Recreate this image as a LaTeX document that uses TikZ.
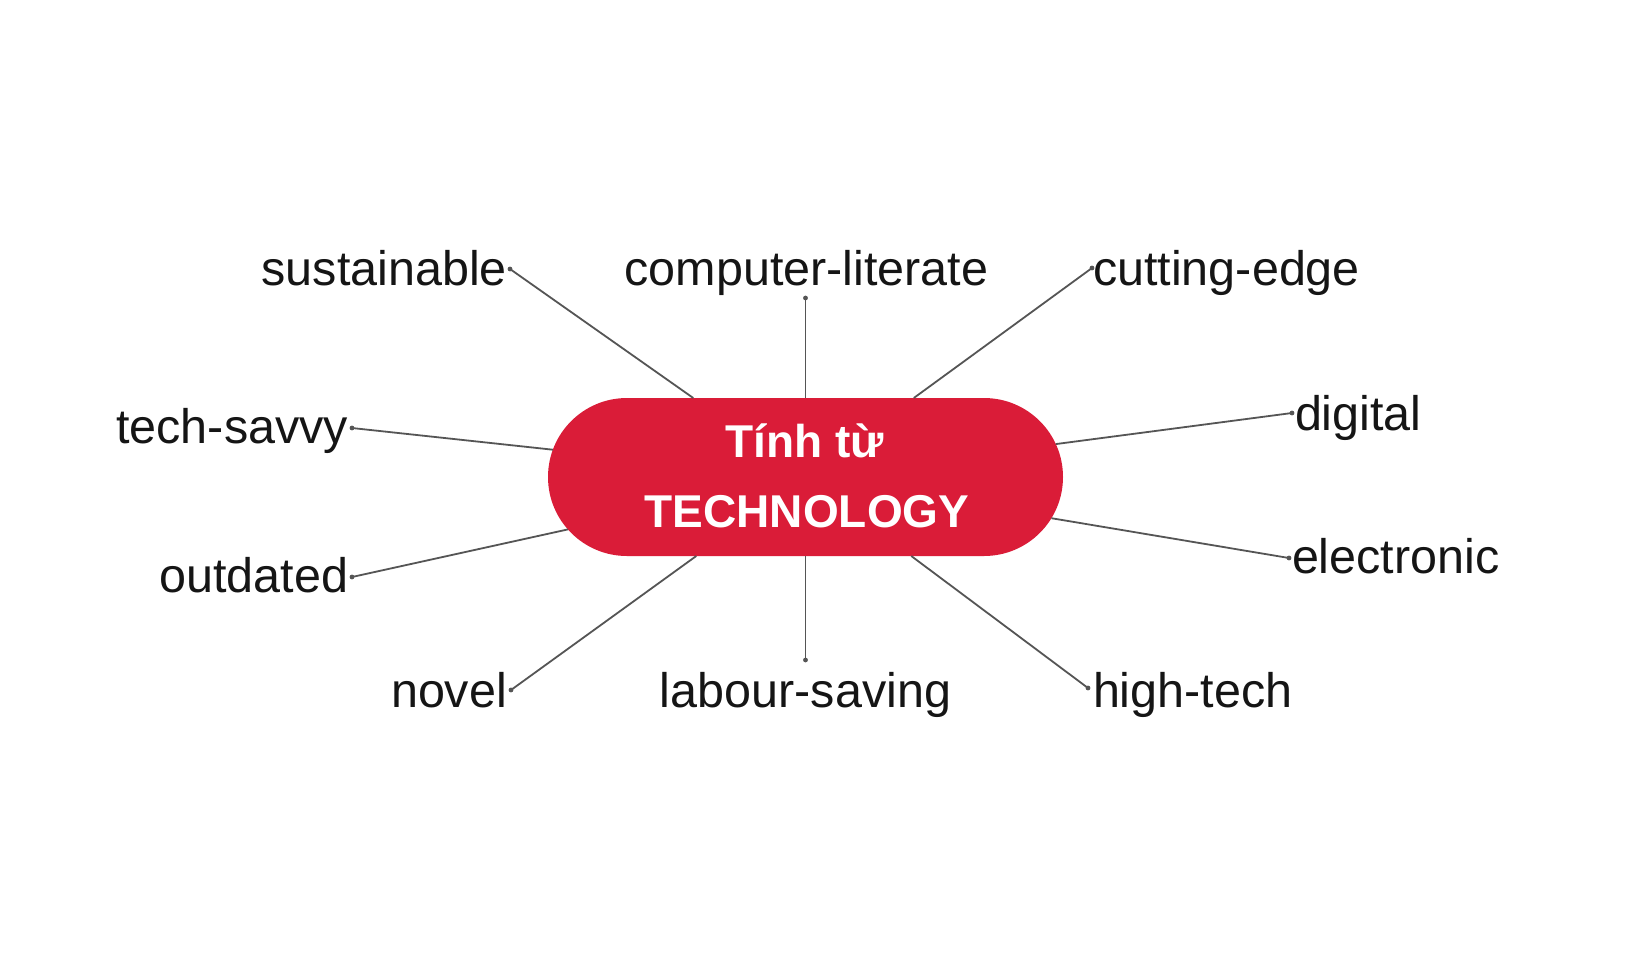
\documentclass[tikz,border=0pt]{standalone}
\usepackage{fontspec}
\setmainfont{Liberation Sans}
\usetikzlibrary{shapes.misc}
\definecolor{hubred}{HTML}{DA1C38}
\definecolor{linegray}{HTML}{555555}
\definecolor{txt}{HTML}{151515}
\begin{document}
\begin{tikzpicture}[x=1pt,y={(0pt,-1pt)},
  lbl/.style={inner sep=0pt,outer sep=0pt,text=txt,font=\fontsize{48.5}{58}\selectfont},
  hubtxt/.style={inner sep=0pt,outer sep=0pt,text=white,font=\bfseries\fontsize{46}{55}\selectfont},
  conn/.style={draw=linegray,line width=1.8pt},
  enddot/.style={fill=linegray,draw=none}]
\useasboundingbox (0,0) rectangle (1626,954);
\fill[white] (0,0) rectangle (1626,954);
% central box
\node[rounded rectangle,fill=hubred,draw=none,minimum width=515pt,minimum height=158pt,inner sep=0pt,outer sep=0pt] (hub) at (805.5,477) {};
\node[hubtxt,anchor=base] (hubA) at (805,457) {Tính từ};
\node[hubtxt,anchor=base] (hubB) at (807,527) {TECHNOLOGY};
% labels
\node[lbl,anchor=base east] (sus) at (507,285) {sustainable};
\node[lbl,anchor=base] (com) at (806.5,285) {computer-literate};
\node[lbl,anchor=base west] (cut) at (1093,285) {cutting-edge};
\node[lbl,anchor=base east] (tec) at (348,443) {tech-savvy};
\node[lbl,anchor=base west] (dig) at (1295,430) {digital};
\node[lbl,anchor=base east] (out) at (348,592) {outdated};
\node[lbl,anchor=base west] (ele) at (1292,573) {electronic};
\node[lbl,anchor=base east] (nov) at (507,707) {novel};
\node[lbl,anchor=base] (lab) at (805.5,707) {labour-saving};
\node[lbl,anchor=base west] (hig) at (1093,707) {high-tech};
% connector ends
\coordinate (dsus) at (510,269);
\coordinate (dcom) at (805.5,298);
\coordinate (dcut) at (1092,268);
\coordinate (dtec) at (352,428);
\coordinate (ddig) at (1292,413);
\coordinate (dout) at (352,577);
\coordinate (dele) at (1289,558);
\coordinate (dnov) at (511,690);
\coordinate (dlab) at (805.5,660);
\coordinate (dhig) at (1088,688);
\foreach \d in {dsus,dcom,dcut,dtec,ddig,dout,dele,dnov,dlab,dhig}{
  \draw[conn] (\d) -- (hub);
  \fill[enddot] (\d) circle (2.4pt);
}
\end{tikzpicture}
\end{document}
